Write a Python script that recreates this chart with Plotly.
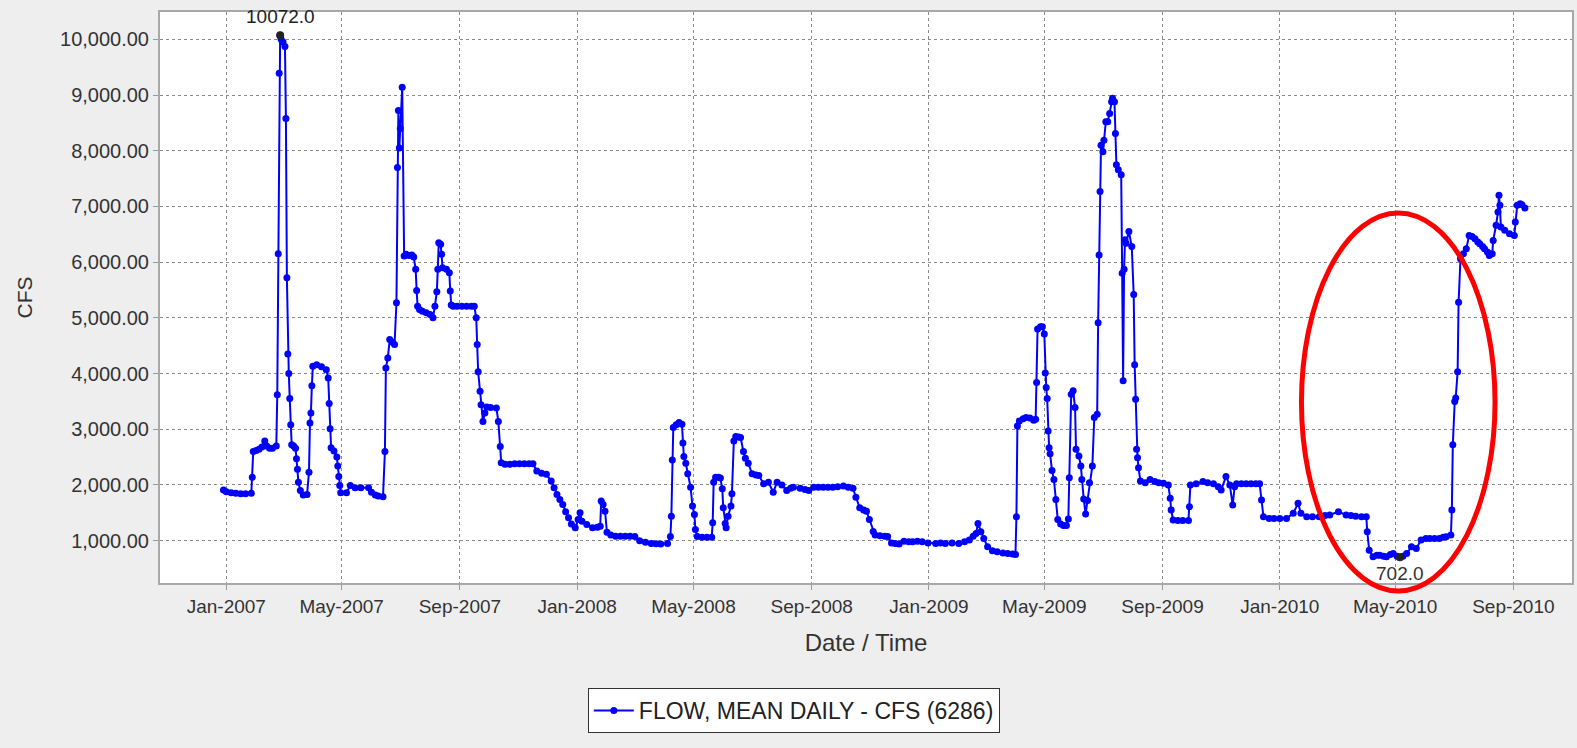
import pandas as pd
import plotly.graph_objects as go

# (day of year offset from Jan 1 of that year, mean daily flow CFS)
flow_2007 = [(-3, 1910), (0, 1880), (5, 1860), (10, 1850), (15, 1840), (20, 1840), (26, 1850), (27, 2140),
             (28, 2600), (31, 2620), (34, 2640), (37, 2680), (40, 2790), (42, 2700), (45, 2660), (48, 2660),
             (52, 2700), (53, 3620), (54, 6150), (55, 9390), (56, 10072), (57, 10000), (59, 9950), (61, 9870),
             (62, 8580), (63, 5720), (64, 4350), (65, 4000), (66, 3550), (67, 3080), (68, 2720), (70, 2700),
             (72, 2660), (73, 2470), (74, 2280), (75, 2050), (77, 1900), (80, 1820), (84, 1830), (86, 2230),
             (87, 3110), (88, 3290), (89, 3780), (90, 4130), (94, 4160), (99, 4120), (104, 4070), (106, 3920),
             (107, 3460), (108, 3010), (109, 2670), (112, 2610), (115, 2500), (116, 2340), (117, 2150),
             (118, 1990), (119, 1860), (125, 1860), (129, 1990), (134, 1950), (140, 1950), (148, 1950),
             (151, 1870), (155, 1820), (158, 1800), (163, 1790), (165, 2600), (166, 4100), (168, 4280),
             (170, 4610), (173, 4560), (175, 4520), (177, 5270), (178, 7700), (179, 8720), (180, 8050),
             (181, 8400), (183, 9140), (185, 6110), (187, 6140), (190, 6120), (193, 6130), (195, 6090),
             (197, 5870), (198, 5490), (199, 5210), (201, 5150), (204, 5120), (208, 5090), (212, 5060),
             (215, 5000), (217, 5210), (219, 5470), (220, 5870), (221, 6350), (223, 6320), (224, 6140),
             (225, 5900), (229, 5870), (232, 5810), (233, 5480), (234, 5230), (236, 5210), (240, 5210),
             (245, 5210), (250, 5210), (255, 5210), (258, 5210), (260, 5000), (261, 4520), (262, 4030),
             (264, 3680), (265, 3440), (267, 3140), (269, 3290), (271, 3400), (275, 3390), (281, 3380),
             (283, 3140), (285, 2690), (286, 2400), (290, 2370), (295, 2370), (300, 2380), (305, 2380),
             (310, 2380), (315, 2380), (319, 2380), (323, 2250), (328, 2210), (333, 2190), (338, 2070),
             (341, 1950), (344, 1830), (347, 1740), (350, 1650), (353, 1520), (356, 1410), (359, 1300),
             (363, 1230)]

flow_2008 = [(1, 1380), (3, 1500), (5, 1350), (10, 1290), (16, 1230), (21, 1240), (24, 1260), (25, 1710),
             (27, 1650), (29, 1530), (31, 1150), (35, 1100), (40, 1080), (45, 1080), (50, 1080), (55, 1080),
             (60, 1075), (65, 1000), (71, 970), (77, 950), (82, 945), (87, 940), (94, 950), (97, 1075),
             (98, 1440), (99, 2450), (100, 3030), (103, 3080), (106, 3120), (109, 3090), (110, 2755),
             (111, 2510), (113, 2390), (115, 2200), (118, 1960), (120, 1620), (122, 1470), (123, 1200),
             (125, 1075), (130, 1060), (135, 1060), (140, 1060), (141, 1320), (142, 2050), (144, 2140),
             (147, 2140), (149, 2125), (151, 1930), (152, 1590), (154, 1310), (155, 1230), (157, 1440),
             (160, 1620), (161, 1840), (163, 2790), (165, 2870), (168, 2860), (170, 2850), (173, 2600),
             (175, 2480), (178, 2390), (182, 2200), (186, 2180), (189, 2170), (194, 2020), (199, 2050),
             (204, 1870), (208, 2050), (213, 2000), (218, 1900), (222, 1940), (225, 1960), (232, 1940),
             (237, 1920), (241, 1900), (246, 1960), (251, 1960), (256, 1960), (261, 1960), (266, 1960),
             (271, 1970), (277, 1980), (282, 1960), (287, 1940), (290, 1780), (294, 1590), (298, 1550),
             (301, 1530), (304, 1380), (308, 1165), (310, 1100), (315, 1090), (320, 1080), (323, 1075),
             (327, 960), (331, 950), (335, 940), (340, 990), (345, 980), (349, 980), (354, 990),
             (359, 980), (365, 960)]

flow_2009 = [(7, 950), (12, 960), (17, 950), (24, 960), (31, 950), (37, 980), (42, 1010), (46, 1080),
             (49, 1130), (51, 1310), (54, 1160), (57, 1040), (61, 890), (66, 820), (71, 800), (77, 780),
             (82, 770), (87, 760), (90, 750), (91, 1430), (92, 3060), (94, 3150), (98, 3190), (101, 3210),
             (105, 3200), (109, 3160), (111, 3180), (112, 3840), (113, 4800), (116, 4840), (118, 4840),
             (120, 4710), (121, 4010), (122, 3750), (123, 3550), (124, 2970), (125, 2670), (126, 2560),
             (128, 2260), (130, 2100), (132, 1740), (134, 1380), (137, 1300), (140, 1270), (143, 1270),
             (145, 1390), (146, 2130), (148, 3630), (150, 3690), (152, 3390), (153, 2640), (156, 2520),
             (158, 2340), (159, 2100), (161, 1750), (163, 1480), (165, 1720), (167, 2040), (170, 2340),
             (172, 3210), (175, 3270), (176, 4910), (177, 6130), (178, 7270), (179, 8100), (181, 7980),
             (182, 8190), (184, 8520), (186, 8520), (188, 8670), (190, 8880), (191, 8940), (193, 8880),
             (194, 8310), (195, 7750), (197, 7660), (200, 7570), (201, 5800), (202, 3870), (203, 5870),
             (204, 6400), (205, 6340), (208, 6550), (211, 6280), (213, 5420), (214, 4160), (215, 3540),
             (216, 2640), (217, 2490), (218, 2310), (220, 2070), (225, 2040), (230, 2100), (235, 2060),
             (239, 2040), (244, 2030), (249, 2000), (251, 1760), (252, 1550), (254, 1370), (259, 1360),
             (264, 1360), (270, 1360), (271, 1610), (272, 2000), (278, 2020), (285, 2060), (290, 2040),
             (296, 2020), (301, 1970), (304, 1910), (309, 2150), (313, 2000), (316, 1640), (318, 1970),
             (320, 2020), (325, 2020), (330, 2020), (335, 2020), (340, 2020), (344, 2020), (346, 1730),
             (348, 1430), (354, 1400), (359, 1400)]

flow_2010 = [(0, 1400), (7, 1400), (14, 1490), (19, 1670), (22, 1490), (28, 1430), (34, 1430), (41, 1430),
             (47, 1450), (52, 1460), (61, 1520), (69, 1460), (74, 1450), (79, 1440), (85, 1430), (90, 1430),
             (91, 1160), (93, 830), (97, 710), (101, 740), (104, 740), (108, 720), (111, 710), (115, 750),
             (118, 770), (122, 720), (125, 702), (128, 720), (132, 770), (137, 890), (142, 860), (147, 1010),
             (152, 1040), (156, 1040), (161, 1040), (166, 1040), (170, 1060), (173, 1070), (178, 1100),
             (179, 1550), (180, 2720), (182, 3500), (183, 3560), (185, 4030), (186, 5280), (188, 6060),
             (191, 6150), (194, 6240), (197, 6480), (200, 6460), (203, 6420), (206, 6360), (208, 6330),
             (211, 6280), (213, 6240), (216, 6180), (218, 6120), (221, 6150), (222, 6390), (225, 6660),
             (227, 6900), (228, 7200), (229, 7020), (230, 6630), (234, 6570), (239, 6510), (244, 6480),
             (245, 6720), (247, 7020), (250, 7050), (252, 7030), (255, 6970)]

series_by_year = {2007: flow_2007, 2008: flow_2008, 2009: flow_2009, 2010: flow_2010}
series_name = "FLOW, MEAN DAILY - CFS (6286)"
x_tick_format = "%b-%Y"

dates, values = [], []
for year, pts in series_by_year.items():
    base = pd.Timestamp(f"{year}-01-01")
    for d, v in pts:
        dates.append(base + pd.Timedelta(days=d))
        values.append(v)

imax = max(range(len(values)), key=lambda i: values[i])
imin = min(range(len(values)), key=lambda i: values[i])

FONT = "Liberation Sans, Arial, sans-serif"
fig = go.Figure()
fig.add_trace(go.Scatter(
    x=dates, y=values, mode="lines+markers", name=series_name,
    line=dict(color="#0000ff", width=2),
    marker=dict(color="#0000ff", size=7, line=dict(width=0)),
))
fig.add_trace(go.Scatter(
    x=[dates[imax], dates[imin]], y=[values[imax], values[imin]], mode="markers",
    marker=dict(color="#222222", size=8, symbol="circle"), showlegend=False, hoverinfo="skip",
))
fig.add_annotation(x=dates[imax], y=values[imax], text=f"{values[imax]:.1f}", showarrow=False,
                   yshift=19, font=dict(family=FONT, size=19, color="#222222"))
fig.add_annotation(x=dates[imin], y=values[imin], text=f"{values[imin]:.1f}", showarrow=False,
                   yshift=-16, font=dict(family=FONT, size=19, color="#333333"))

fig.add_shape(type="circle", xref="paper", yref="paper", x0=0.8084, x1=0.9455, y0=-0.014, y1=0.648,
              line=dict(color="#ff0000", width=5), layer="above")

grid = dict(showgrid=True, gridcolor="#8a8a8a", gridwidth=1.2, griddash="dot",
            showline=True, mirror=True, linecolor="#a8a8a8", linewidth=2,
            ticks="outside", ticklen=5, tickcolor="#9a9a9a", zeroline=False)

fig.update_layout(
    width=1577, height=748,
    margin=dict(l=160, r=3, t=12, b=165),
    paper_bgcolor="#eeeeee", plot_bgcolor="#ffffff",
    font=dict(family=FONT, color="#333333"),
    showlegend=True,
    legend=dict(x=0.303, y=-0.184, xanchor="left", yanchor="top", orientation="h",
                bgcolor="#ffffff", bordercolor="#333333", borderwidth=1, itemwidth=40,
                font=dict(family=FONT, size=23, color="#222222")),
    xaxis=dict(type="date", range=["2006-10-24", "2010-11-01"], tick0="2007-01-01", dtick="M4",
               tickformat=x_tick_format, tickfont=dict(size=19, color="#333333"),
               title=dict(text="Date / Time", font=dict(size=24, color="#333333"), standoff=18),
               **grid),
    yaxis=dict(range=[240, 10490], tick0=0, dtick=1000, tickformat=",.2f",
               tickfont=dict(size=20, color="#333333"),
               title=dict(text="CFS", font=dict(size=21, color="#333333"), standoff=22),
               **grid),
)

fig.write_html("out.html", config={"displayModeBar": False},
               post_script="document.body.style.margin='0';document.body.style.overflow='hidden';")
